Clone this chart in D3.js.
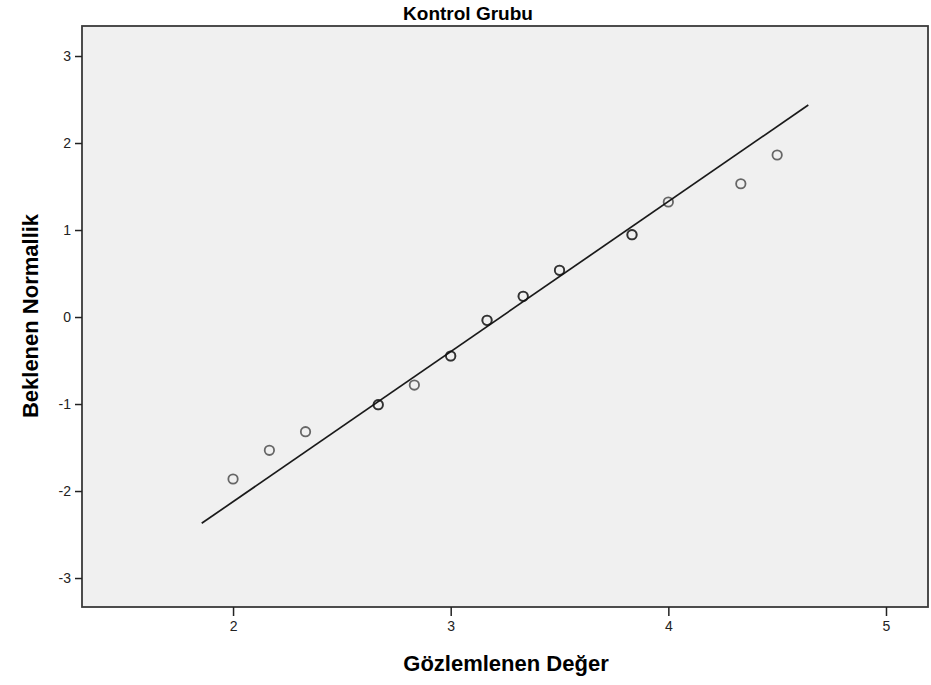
<!DOCTYPE html>
<html>
<head>
<meta charset="utf-8">
<script src="https://cdn.jsdelivr.net/npm/d3@7"></script>
<style>
  body { margin: 0; background: #fff; }
  svg { display: block; }
</style>
</head>
<body>
<div id="chart"></div>
<script>
// observed values (x) and expected normal values (y)
const observed = [2.0, 2.167, 2.333, 2.667, 2.833, 3.0, 3.167, 3.333, 3.5, 3.833, 4.0, 4.333, 4.5];
const expected = [-1.862, -1.532, -1.318, -1.008, -0.782, -0.448, -0.038, 0.238, 0.537, 0.946, 1.322, 1.532, 1.862];
// how many cases fall on each point (ties drawn on top of each other)
const counts = [1, 1, 1, 2, 1, 2, 2, 2, 2, 2, 1, 1, 1];
// reference line ends
const lineX = [1.856, 4.643];
const lineY = [-2.371, 2.437];
const xTicks = [2, 3, 4, 5];
const yTicks = [-3, -2, -1, 0, 1, 2, 3];

const W = 931, H = 685;
const margin = { top: 26, right: 3, bottom: 78, left: 82 };
const font = '"Liberation Sans", Arial, sans-serif';

const svg = d3.select('#chart').append('svg')
	.attr('width', W)
	.attr('height', H);

const x = d3.scaleLinear()
	.domain([1.306, 5.193])
	.range([margin.left, W - margin.right]);

const y = d3.scaleLinear()
	.domain([-3.333, 3.345])
	.range([H - margin.bottom, margin.top]);

// plot background + frame
svg.append('rect')
	.attr('x', margin.left)
	.attr('y', margin.top)
	.attr('width', W - margin.right - margin.left)
	.attr('height', H - margin.bottom - margin.top)
	.attr('fill', '#f0f0f0')
	.attr('stroke', '#3a3a3a')
	.attr('stroke-width', 1.8);

const xAxis = svg.append('g')
	.attr('transform', `translate(0,${H - margin.bottom})`)
	.call(d3.axisBottom(x).tickValues(xTicks).tickSize(9).tickPadding(5).tickFormat(d => String(d)));
xAxis.select('.domain').remove();
xAxis.selectAll('.tick line').attr('stroke', '#222').attr('stroke-width', 1.5);

const yAxis = svg.append('g')
	.attr('transform', `translate(${margin.left},0)`)
	.call(d3.axisLeft(y).tickValues(yTicks).tickSize(7).tickPadding(4).tickFormat(d => String(d)));
yAxis.select('.domain').remove();
yAxis.selectAll('.tick line').attr('stroke', '#222').attr('stroke-width', 1.5);

svg.selectAll('.tick text')
	.style('font-family', font)
	.style('font-size', '14px')
	.style('fill', '#222');

// reference line
const line = d3.line()
	.x(d => x(d[0]))
	.y(d => y(d[1]));

svg.append('path')
	.datum(d3.zip(lineX, lineY))
	.attr('d', line)
	.attr('fill', 'none')
	.attr('stroke', '#1a1a1a')
	.attr('stroke-width', 1.7);

// points, repeated for ties
let pts = [];
observed.forEach((v, i) => {
	for (let k = 0; k < counts[i]; k++) pts.push([v, expected[i]]);
});

svg.append('g').selectAll('circle')
	.data(pts)
	.enter().append('circle')
		.attr('cx', d => x(d[0]))
		.attr('cy', d => y(d[1]))
		.attr('r', 4.7)
		.attr('fill', 'none')
		.attr('stroke', '#111')
		.attr('stroke-opacity', 0.62)
		.attr('stroke-width', 1.8);

// titles
svg.append('text')
	.attr('x', 468)
	.attr('y', 20)
	.attr('text-anchor', 'middle')
	.style('font-family', font)
	.style('font-weight', 'bold')
	.style('font-size', '19px')
	.text('Kontrol Grubu');

svg.append('text')
	.attr('x', 506)
	.attr('y', 671)
	.attr('text-anchor', 'middle')
	.style('font-family', font)
	.style('font-weight', 'bold')
	.style('font-size', '22px')
	.text('Gözlemlenen Değer');

svg.append('text')
	.attr('transform', 'translate(38,316) rotate(-90)')
	.attr('text-anchor', 'middle')
	.style('font-family', font)
	.style('font-weight', 'bold')
	.style('font-size', '22px')
	.text('Beklenen Normallik');
</script>
</body>
</html>
